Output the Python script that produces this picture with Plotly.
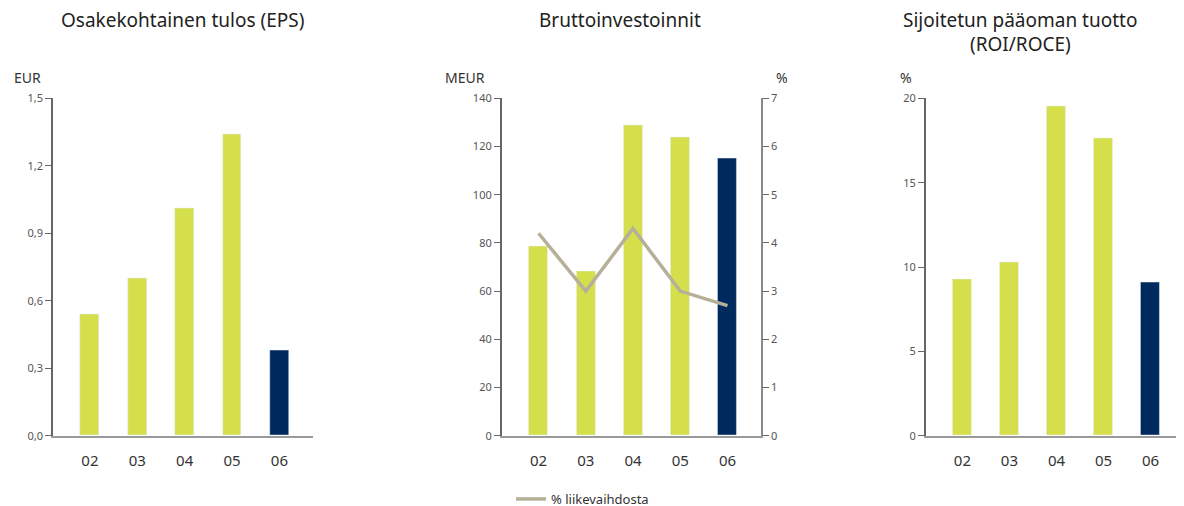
import plotly.graph_objects as go

# Page body has an 8px margin; figure is positioned to compensate.
OFF = 8
W, H = 1176, 506
years = ["02", "03", "04", "05", "06"]
eps = [0.54, 0.70, 1.01, 1.34, 0.38]
capex = [78.4, 68.4, 128.7, 123.7, 115.0]
capex_pct = [4.2, 3.0, 4.3, 3.0, 2.7]
roi = [9.25, 10.25, 19.55, 17.65, 9.1]

eps_ticks = [0, 0.3, 0.6, 0.9, 1.2, 1.5]
eps_ticklabels = ["0,0", "0,3", "0,6", "0,9", "1,2", "1,5"]
capex_ticks = [0, 20, 40, 60, 80, 100, 120, 140]
pct_ticks = [0, 1, 2, 3, 4, 5, 6, 7]
roi_ticks = [0, 5, 10, 15, 20]

LIME = "#d5df4b"
NAVY = "#002a5e"
LINEC = "#b6b099"
FONT = "Noto Sans"
colors = [LIME, LIME, LIME, LIME, NAVY]

def px_x(x):
    return min(1.0, (x - OFF) / W)

def px_y(y):
    return 1 - (y - OFF) / H

y0, y1 = px_y(435.7), px_y(98.3)
xr = [-0.78, 4.71]

fig = go.Figure()
fig.add_trace(go.Bar(x=years, y=eps, marker_color=colors, width=0.4,
                     xaxis="x", yaxis="y", showlegend=False))
fig.add_trace(go.Bar(x=years, y=capex, marker_color=colors, width=0.4,
                     xaxis="x2", yaxis="y2", showlegend=False))
fig.add_trace(go.Scatter(x=years, y=capex_pct, mode="lines",
                         line=dict(color=LINEC, width=3.5),
                         xaxis="x2", yaxis="y3", name="% liikevaihdosta",
                         showlegend=True))
fig.add_trace(go.Bar(x=years, y=roi, marker_color=colors, width=0.4,
                     xaxis="x3", yaxis="y4", showlegend=False))

xcommon = dict(type="category", range=xr, showgrid=False, zeroline=False,
               showline=True, linecolor="#9a9a9a", linewidth=2,
               ticks="outside", ticklen=10, tickcolor="rgba(0,0,0,0)",
               tickfont=dict(family=FONT, size=15, color="#333333"),
               fixedrange=True)
ycommon = dict(showgrid=False, zeroline=False, showline=True,
               linecolor="#666666", linewidth=1.5, ticks="outside",
               ticklen=6, tickcolor="#666666", tickwidth=1,
               tickfont=dict(family=FONT, size=11, color="#555555"))

fig.update_layout(
    width=W, height=H,
    margin=dict(l=0, r=0, t=0, b=0, autoexpand=False),
    paper_bgcolor="white", plot_bgcolor="white",
    font=dict(family=FONT),
    bargap=0,
    xaxis=dict(domain=[px_x(53), px_x(313)], anchor="y", **xcommon),
    xaxis2=dict(domain=[px_x(501.7), px_x(761)], anchor="y2", **xcommon),
    xaxis3=dict(domain=[px_x(925.7), 1.0], anchor="y4", **xcommon),
    yaxis=dict(domain=[y0, y1], anchor="x", range=[0, 1.5],
               tickvals=eps_ticks, ticktext=eps_ticklabels, **ycommon),
    yaxis2=dict(domain=[y0, y1], anchor="x2", range=[0, 140],
                tickvals=capex_ticks, **ycommon),
    yaxis3=dict(domain=[y0, y1], anchor="x2", overlaying="y2", side="right",
                range=[0, 7], tickvals=pct_ticks, linecolor="#888888",
                **{k: v for k, v in ycommon.items() if k != "linecolor"}),
    yaxis4=dict(domain=[y0, y1], anchor="x3", range=[0, 20],
                tickvals=roi_ticks, **ycommon),
    legend=dict(x=px_x(511), y=px_y(499), xanchor="left", yanchor="middle",
                orientation="h", font=dict(family=FONT, size=13, color="#333333"),
                itemwidth=30, bgcolor="rgba(0,0,0,0)"),
)

def ann(text, x, y, size, color="#222222", xanchor="center"):
    fig.add_annotation(text=text, x=px_x(x), y=px_y(y), xref="paper",
                       yref="paper", showarrow=False, xanchor=xanchor,
                       yanchor="middle",
                       font=dict(family=FONT, size=size, color=color))

ann("Osakekohtainen tulos (EPS)", 182, 20, 19)
ann("Bruttoinvestoinnit", 620, 20, 19)
ann("Sijoitetun pääoman tuotto", 1020, 20, 19)
ann("(ROI/ROCE)", 1020, 44, 19)
ann("EUR", 12, 77, 14, "#333333", "left")
ann("MEUR", 443, 77, 14, "#333333", "left")
ann("%", 774, 77, 14, "#333333", "left")
ann("%", 898, 77, 14, "#333333", "left")

fig.write_html("out.html")
